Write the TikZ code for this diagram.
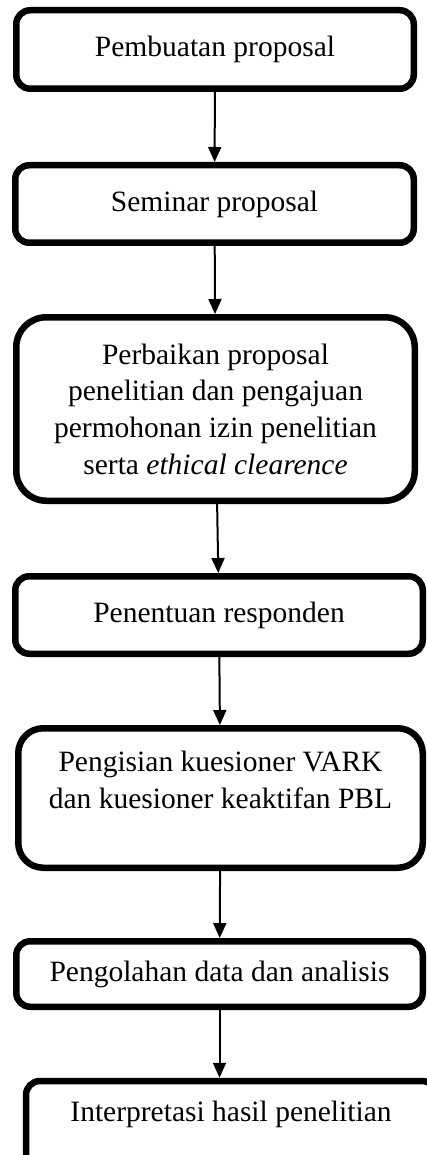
\documentclass[tikz,border=0pt]{standalone}
\usepackage{fontspec}
\setmainfont{Liberation Serif}
\usetikzlibrary{arrows.meta,positioning}
\tikzset{
  stage/.style ={draw, line width=6.5pt, rounded corners=14pt, fill=white, align=center,
                 inner sep=0pt, font=\fontsize{29.5}{36.7}\selectfont},
  flow/.style  ={-{Triangle[width=13pt,length=15pt]}, line width=2pt}
}
\begin{document}
\begin{tikzpicture}[x=1pt, y=-1pt]
  \useasboundingbox (0,0) rectangle (427,1155);
  \clip (0,0) rectangle (427,1155);
  \node[stage, minimum width=397.5pt, minimum height=78.5pt] (prop) at (215,49.5) {Pembuatan proposal};
  \node[stage, minimum width=398.5pt, minimum height=77.5pt] (sem) at (214.5,204) {Seminar proposal};
  \node[stage, rounded corners=30pt, minimum width=398.5pt, minimum height=183.5pt] (rev) at (215.5,409)
    {Perbaikan proposal\\penelitian dan pengajuan\\permohonan izin penelitian\\serta \textit{ethical clearence}};
  \node[stage, minimum width=407.5pt, minimum height=77.5pt] (resp) at (219,615) {Penentuan responden};
  \node[stage, rounded corners=25pt, minimum width=404.5pt, minimum height=139.5pt] (quest) at (220.5,798)
    {Pengisian kuesioner VARK\\dan kuesioner keaktifan PBL\\\mbox{}};
  \node[stage, minimum width=406.5pt, minimum height=65.5pt] (data) at (219.5,974) {Pengolahan data dan analisis};
  \node[stage, minimum width=410pt, minimum height=98pt] (interp) at (231,1130) {Interpretasi hasil penelitian\\\mbox{}};
  \draw[flow] (prop) -- (sem);
  \draw[flow] (sem) -- (rev);
  \draw[flow] (rev) -- (resp);
  \draw[flow] (resp) -- (quest);
  \draw[flow] (quest) -- (data);
  \draw[flow] (data.south) -- (data.south |- interp.north);
\end{tikzpicture}
\end{document}
